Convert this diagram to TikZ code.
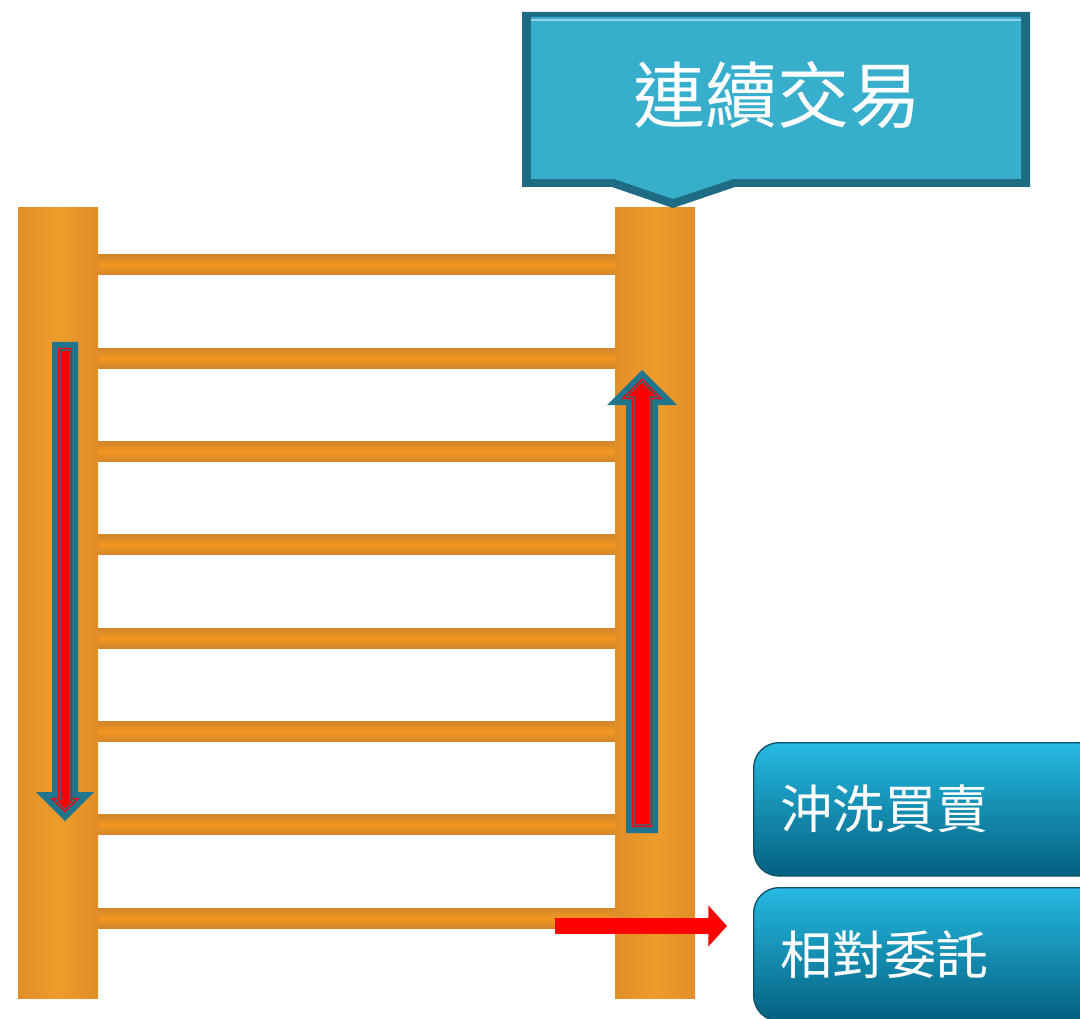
\documentclass[tikz,border=0pt]{standalone}
\usepackage{fontspec}
\newfontfamily\cjk{Noto Sans CJK TC}
\usetikzlibrary{arrows.meta}

\definecolor{postmid}{RGB}{238,156,42}
\definecolor{postedge}{RGB}{224,142,40}
\definecolor{rungmid}{RGB}{243,150,30}
\definecolor{rungedge}{RGB}{210,135,45}
\definecolor{calloutblue}{RGB}{54,174,204}
\definecolor{calloutdark}{RGB}{30,108,132}
\definecolor{arrowteal}{RGB}{31,117,142}
\definecolor{btntop}{RGB}{38,186,226}
\definecolor{btnbot}{RGB}{4,96,128}
\definecolor{btnedge}{RGB}{10,80,105}

\tikzset{every picture/.style={line width=0.75pt}}

% one layer of a block arrow: x, end y, wing y, tip y, half shaft, half head, sign, inset, style
\newcommand{\arrowlayer}[9]{%
  \fill[#9] ({#1-#5+#8},{#2-(#7)*#8}) -- ({#1-#5+#8},{#3-(#7)*#8}) -- ({#1-#6+2.414*#8},{#3-(#7)*#8})
    -- ({#1},{#4+(#7)*1.414*#8}) -- ({#1+#6-2.414*#8},{#3-(#7)*#8}) -- ({#1+#5-#8},{#3-(#7)*#8})
    -- ({#1+#5-#8},{#2-(#7)*#8}) -- cycle;}

\begin{document}
\begin{tikzpicture}[x=0.75pt,y=0.75pt,yscale=-1,xscale=1,
  button/.style={rounded corners=19pt, top color=btntop, bottom color=btnbot, draw=btnedge, line width=1pt,
    text width=222pt, inner xsep=20pt, minimum height=100pt, align=left, anchor=north west,
    font=\cjk\fontsize{39}{39}\selectfont, text=white}]
  \path[use as bounding box] (0,0) rectangle (1080,1019);
  \clip (0,0) rectangle (1080,1019);

  %Rungs
  \foreach \k in {0,...,7}
    \shade[top color=rungedge, bottom color=rungedge, middle color=rungmid]
      (90,{265+93.3*\k-10}) rectangle (622,{265+93.3*\k+10});

  %Posts
  \shade[left color=postedge, right color=postedge, middle color=postmid] (18,208) rectangle (98,998);
  \shade[left color=postedge, right color=postedge, middle color=postmid] (615,208) rectangle (695,998);

  %Callout
  \fill[calloutdark] (522,12) -- (1030,12) -- (1030,187) -- (735,187) -- (673,208) -- (612,187) -- (522,187) -- cycle;
  \fill[calloutblue] (531,17) -- (1021,17) -- (1021,179) -- (733,179) -- (673,199) -- (614,179) -- (531,179) -- cycle;
  \draw[calloutblue!55!white, line width=1.5pt] (531,20) -- (1021,20);
  \node[font=\cjk\fontsize{54}{54}\selectfont, text=white] (title) at (777,95) {連續交易};

  %Down arrow
  \arrowlayer{65}{342}{792}{821}{13}{29}{-1}{0}{arrowteal}
  \arrowlayer{65}{342}{792}{821}{13}{29}{-1}{6}{red}
  \arrowlayer{65}{342}{792}{821}{13}{29}{-1}{7.3}{arrowteal}
  \arrowlayer{65}{342}{792}{821}{13}{29}{-1}{8.6}{red}

  %Up arrow
  \arrowlayer{642}{833}{405}{370}{16}{35}{1}{0}{arrowteal}
  \arrowlayer{642}{833}{405}{370}{16}{35}{1}{6}{red}
  \arrowlayer{642}{833}{405}{370}{16}{35}{1}{7.3}{arrowteal}
  \arrowlayer{642}{833}{405}{370}{16}{35}{1}{8.6}{red}

  %Buttons
  \node[button] (flush) at (753,742) {沖洗買賣};
  \node[button] (match) at (753,887) {相對委託};

  %Red arrow
  \coordinate (start) at (555,926);
  \coordinate (tip) at ([xshift=-19.5pt]match.west);
  \draw[red, line width=12pt, -{Triangle[length=14pt,width=30pt]}] (start) -- (start -| tip);
\end{tikzpicture}
\end{document}
